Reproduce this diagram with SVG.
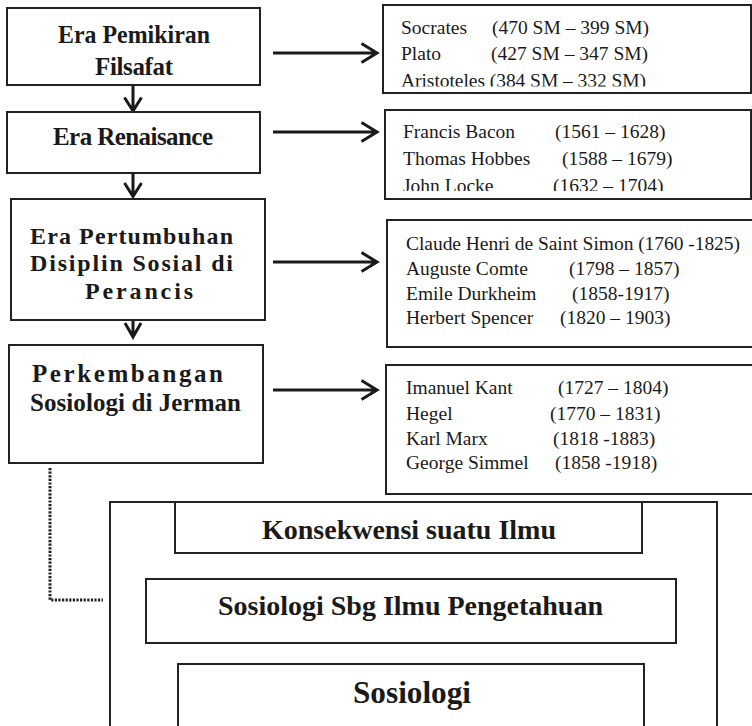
<svg xmlns="http://www.w3.org/2000/svg" width="752" height="726" viewBox="0 0 752 726">
<style>
.box{fill:#fff;stroke:#222;stroke-width:2}
.t{font-family:"Liberation Serif","Times New Roman",serif;fill:#1a1a1a}
.h{font-size:25px;font-weight:bold}
.h3{font-size:24px;font-weight:bold}
.r{font-size:19.5px}
.b{font-size:27px;font-weight:bold}
.arr{fill:none;stroke:#1a1a1a;stroke-width:3;stroke-linecap:butt}
.dot{fill:none;stroke:#222;stroke-width:3;stroke-dasharray:2.2 1.4}
</style>
<defs>
<clipPath id="cA"><rect x="383" y="5" width="369" height="81.5"/></clipPath>
<clipPath id="cB"><rect x="385" y="110" width="367" height="81"/></clipPath>
</defs>
<rect width="752" height="726" fill="#fff"/>

<g id="connectors">
<path class="arr" d="M133 85V110M124.5 97.5L133 111L141.5 97.5"/>
<path class="arr" d="M133 173V196M124.5 183L133 196.5L141.5 183"/>
<path class="arr" d="M133 320V335M125 323L133 337L141 323"/>
<path class="arr" d="M273 53H376M361.5 43.5L377 53L361.5 62.5"/>
<path class="arr" d="M273 132H376M361.5 122.5L377 132L361.5 141.5"/>
<path class="arr" d="M273 262H376M361.5 252.5L377 262L361.5 271.5"/>
<path class="arr" d="M273 390H376M361.5 380.5L377 390L361.5 399.5"/>
<path class="dot" d="M50 468V600H103"/>
</g>

<g id="n1">
<rect class="box" x="7" y="8" width="253" height="77"/>
<text class="t h" x="58" y="43" textLength="152" lengthAdjust="spacingAndGlyphs">Era Pemikiran</text>
<text class="t h" x="95" y="75" textLength="78" lengthAdjust="spacing">Filsafat</text>
</g>
<g id="n2">
<rect class="box" x="7" y="112" width="253" height="61"/>
<text class="t h" x="53" y="145" textLength="160" lengthAdjust="spacing">Era Renaisance</text>
</g>
<g id="n3">
<rect class="box" x="11" y="199" width="254" height="121"/>
<text class="t h3" x="30" y="244" textLength="203" lengthAdjust="spacing">Era Pertumbuhan</text>
<text class="t h3" x="30" y="271" textLength="203" lengthAdjust="spacing">Disiplin Sosial di</text>
<text class="t h3" x="85" y="299" textLength="108" lengthAdjust="spacing">Perancis</text>
</g>
<g id="n4">
<rect class="box" x="9" y="345" width="254" height="118"/>
<text class="t h" x="32" y="382" textLength="191" lengthAdjust="spacing">Perkembangan</text>
<text class="t h" x="30" y="411" textLength="211" lengthAdjust="spacing">Sosiologi di Jerman</text>
</g>

<g id="nA">
<rect class="box" x="383" y="5" width="368" height="88"/>
<g clip-path="url(#cA)">
<text class="t r" x="401" y="34">Socrates</text><text class="t r" x="492" y="34">(470 SM – 399 SM)</text>
<text class="t r" x="401" y="60">Plato</text><text class="t r" x="491" y="60">(427 SM – 347 SM)</text>
<text class="t r" x="401" y="87" textLength="245" lengthAdjust="spacing">Aristoteles (384 SM – 332 SM)</text>
</g>
</g>
<g id="nB">
<rect class="box" x="385" y="110" width="366" height="89"/>
<g clip-path="url(#cB)">
<text class="t r" x="403" y="138">Francis Bacon</text><text class="t r" x="555" y="138">(1561 – 1628)</text>
<text class="t r" x="403" y="165">Thomas Hobbes</text><text class="t r" x="562" y="165">(1588 – 1679)</text>
<text class="t r" x="403" y="192">John Locke</text><text class="t r" x="553" y="192">(1632 – 1704)</text>
</g>
</g>
<g id="nC">
<rect class="box" x="387" y="220" width="367" height="127"/>
<text class="t r" x="406" y="250" textLength="334" lengthAdjust="spacing">Claude Henri de Saint Simon  (1760 -1825)</text>
<text class="t r" x="406" y="275">Auguste Comte</text><text class="t r" x="569" y="275">(1798 – 1857)</text>
<text class="t r" x="406" y="300">Emile Durkheim</text><text class="t r" x="572" y="300">(1858-1917)</text>
<text class="t r" x="406" y="324">Herbert Spencer</text><text class="t r" x="560" y="324">(1820 – 1903)</text>
</g>
<g id="nD">
<rect class="box" x="386" y="365" width="368" height="129"/>
<text class="t r" x="406" y="394">Imanuel Kant</text><text class="t r" x="558" y="394">(1727 – 1804)</text>
<text class="t r" x="406" y="420">Hegel</text><text class="t r" x="550" y="420">(1770 – 1831)</text>
<text class="t r" x="406" y="445">Karl Marx</text><text class="t r" x="553" y="445">(1818 -1883)</text>
<text class="t r" x="406" y="469">George Simmel</text><text class="t r" x="555" y="469">(1858 -1918)</text>
</g>

<g id="outer">
<path class="box" d="M110 730V502H717V730"/>
</g>
<g id="k1">
<rect class="box" x="175" y="502" width="467" height="51"/>
<text class="t b" x="262" y="539" textLength="294" lengthAdjust="spacingAndGlyphs">Konsekwensi suatu Ilmu</text>
</g>
<g id="k2">
<rect class="box" x="146" y="579" width="530" height="64"/>
<text class="t b" x="218" y="615" textLength="385" lengthAdjust="spacingAndGlyphs">Sosiologi Sbg Ilmu Pengetahuan</text>
</g>
<g id="k3">
<path class="box" d="M178 730V664H644V730"/>
<text class="t b" x="353" y="703" style="font-size:31px" textLength="118" lengthAdjust="spacingAndGlyphs">Sosiologi</text>
</g>
</svg>
